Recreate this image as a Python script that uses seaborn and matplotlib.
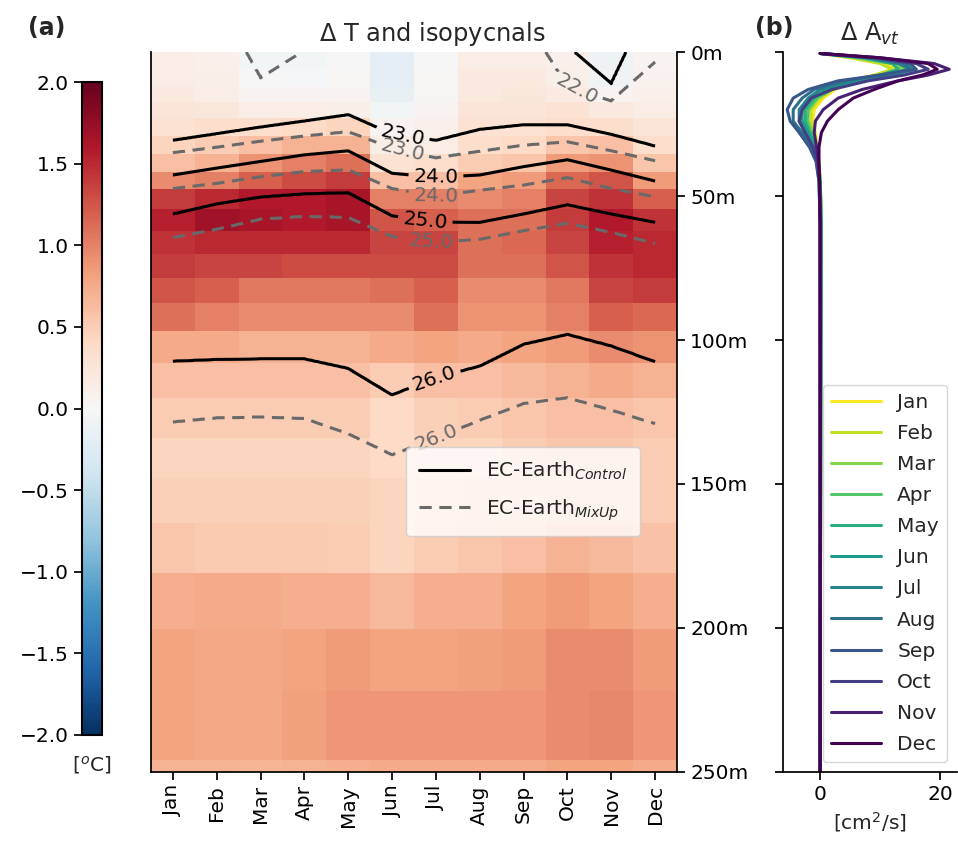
"""Delta T with isopycnals (a) and monthly Delta A_vt profiles (b)."""
import matplotlib

matplotlib.use("Agg")
import matplotlib.pyplot as plt
import numpy as np
import pandas as pd
import seaborn as sns
from matplotlib.lines import Line2D

OUTPUT = "out.png"

MONTHS = ["Jan", "Feb", "Mar", "Apr", "May", "Jun", "Jul", "Aug", "Sep", "Oct", "Nov", "Dec"]

# model layer edges (m) for the temperature difference cells
DEPTH_EDGES = [0, 6, 12, 17.5, 23, 29, 35.5, 41.5, 47.5, 54.5, 62, 70, 78.5, 87,
               97, 108, 120, 134, 148, 163.5, 181, 200.5, 222, 246, 270]

# Delta T [degC], one row per layer, one column per month
DELTA_T = [
    [0.15, 0.10, -0.05, -0.05, 0.00, -0.20, 0.00, 0.15, 0.15, 0.10, -0.10, 0.05],
    [0.15, 0.12, 0.00, -0.02, 0.02, -0.20, 0.02, 0.20, 0.20, 0.12, -0.08, 0.08],
    [0.20, 0.15, 0.05, 0.05, 0.05, -0.15, 0.03, 0.20, 0.22, 0.18, 0.05, 0.10],
    [0.25, 0.22, 0.15, 0.15, 0.12, -0.05, 0.05, 0.25, 0.25, 0.30, 0.20, 0.15],
    [0.30, 0.35, 0.35, 0.40, 0.45, 0.05, 0.10, 0.30, 0.30, 0.35, 0.35, 0.25],
    [0.45, 0.50, 0.60, 0.70, 0.70, 0.15, 0.15, 0.35, 0.40, 0.55, 0.60, 0.35],
    [0.60, 0.70, 0.90, 1.00, 1.10, 0.30, 0.35, 0.50, 0.55, 0.85, 0.90, 0.55],
    [0.95, 1.00, 1.20, 1.30, 1.40, 0.60, 0.60, 0.80, 0.85, 1.15, 1.25, 0.85],
    [1.40, 1.50, 1.60, 1.60, 1.65, 1.00, 1.00, 0.95, 1.00, 1.35, 1.45, 1.20],
    [1.55, 1.70, 1.65, 1.60, 1.65, 1.25, 1.20, 1.10, 1.10, 1.40, 1.60, 1.45],
    [1.45, 1.50, 1.50, 1.50, 1.50, 1.35, 1.35, 1.10, 1.15, 1.35, 1.55, 1.50],
    [1.40, 1.35, 1.35, 1.30, 1.30, 1.30, 1.30, 1.10, 1.10, 1.25, 1.45, 1.50],
    [1.25, 1.20, 1.05, 1.05, 1.05, 1.10, 1.20, 0.95, 0.95, 1.05, 1.35, 1.40],
    [1.10, 1.00, 0.95, 0.95, 0.95, 0.95, 1.10, 0.90, 0.90, 1.00, 1.20, 1.15],
    [0.75, 0.75, 0.70, 0.70, 0.70, 0.75, 0.80, 0.75, 0.80, 0.85, 0.95, 0.90],
    [0.60, 0.60, 0.60, 0.60, 0.60, 0.50, 0.60, 0.60, 0.65, 0.70, 0.75, 0.70],
    [0.50, 0.50, 0.50, 0.50, 0.50, 0.40, 0.48, 0.50, 0.55, 0.60, 0.60, 0.55],
    [0.45, 0.45, 0.45, 0.45, 0.45, 0.40, 0.45, 0.45, 0.50, 0.55, 0.55, 0.50],
    [0.48, 0.48, 0.48, 0.48, 0.48, 0.45, 0.48, 0.50, 0.52, 0.55, 0.55, 0.50],
    [0.55, 0.52, 0.52, 0.52, 0.50, 0.45, 0.50, 0.55, 0.60, 0.70, 0.65, 0.58],
    [0.72, 0.75, 0.75, 0.72, 0.72, 0.65, 0.72, 0.72, 0.80, 0.85, 0.80, 0.72],
    [0.80, 0.78, 0.78, 0.80, 0.85, 0.80, 0.80, 0.82, 0.85, 0.95, 0.95, 0.85],
    [0.80, 0.78, 0.78, 0.82, 0.88, 0.88, 0.88, 0.88, 0.88, 0.95, 0.97, 0.88],
    [0.70, 0.70, 0.68, 0.70, 0.72, 0.75, 0.75, 0.75, 0.75, 0.80, 0.80, 0.75],
]

# isopycnal depth (m) per month; negative = surface outcrop (level lies above the sea surface)
SIGMA_LEVELS = [22.0, 23.0, 24.0, 25.0, 26.0]

CONTROL_D22 = [-25, -25, -20, -20, -20, -25, -30, -25, -20, -2.1, 11.0, -21.4]
CONTROL_D23 = [30.7, 28.4, 26.1, 24.0, 21.8, 28.5, 30.7, 26.9, 25.3, 25.3, 28.6, 32.7]
CONTROL_D24 = [42.7, 40.3, 38.0, 35.7, 34.3, 42.1, 43.5, 42.7, 39.8, 37.4, 41.0, 44.8]
CONTROL_D25 = [56.2, 52.7, 50.3, 49.2, 48.8, 56.8, 59.0, 59.1, 56.2, 53.0, 56.2, 59.1]
CONTROL_D26 = [107.3, 106.7, 106.5, 106.5, 109.8, 119.0, 113.0, 109.0, 101.4, 98.0, 102.0, 107.5]

MIXUP_D22 = [-25, -18.3, 9.0, -0.5, -20, -25, -25, -25, -12, 12.0, 17.0, 3.5]
MIXUP_D23 = [35.0, 33.1, 31.0, 29.2, 27.7, 33.5, 36.8, 34.5, 32.4, 31.2, 34.3, 37.8]
MIXUP_D24 = [47.4, 45.6, 43.3, 41.5, 40.9, 47.4, 50.0, 48.0, 46.2, 43.6, 47.4, 50.3]
MIXUP_D25 = [64.4, 61.5, 58.0, 57.0, 57.4, 64.0, 66.0, 65.0, 62.0, 59.4, 62.6, 66.4]
MIXUP_D26 = [128.4, 127.0, 126.7, 127.2, 132.5, 139.8, 134.0, 127.8, 122.0, 120.0, 124.3, 129.0]

CONTROL_LABEL_XY = [(5.75, 28.0), (6.5, 43.5), (6.26, 58.0), (6.5, 115.0)]
MIXUP_LABEL_XY = [(9.7, 13.5), (5.75, 33.3), (6.5, 49.7), (6.4, 65.6), (6.5, 134.0)]

# Delta A_vt profiles [cm2/s]
AVT_DEPTHS = [0.5, 2, 4, 6, 8, 10, 13, 16, 20, 24, 28, 33, 38, 45, 60, 100, 250]
AVT_PROFILES = [
    [0, 6, 11, 13, 10, 6, 2.5, 0.5, -1, -1.2, -0.8, -0.5, -0.2, 0, 0.2, 0.1, 0],
    [0, 5, 10, 12, 9, 5, 2, 0, -1.5, -1.5, -1, -0.5, -0.2, 0, 0.2, 0.1, 0],
    [0, 6, 12, 14, 10, 5, 1.5, -0.5, -2, -2, -1.3, -0.6, -0.2, 0, 0.2, 0.1, 0],
    [0, 7, 13, 15, 11, 6, 2, -0.5, -2, -2.2, -1.5, -0.7, -0.3, 0, 0.2, 0.1, 0],
    [0, 7, 12, 13, 10, 5, 1, -1, -2.5, -2.5, -1.8, -0.8, -0.3, 0, 0.2, 0.1, 0],
    [0, 8, 14, 16, 12, 6, 1, -1.5, -3, -3, -2, -1, -0.4, -0.1, 0.1, 0.1, 0],
    [0, 8, 13, 15, 11, 5, 0, -2, -3.5, -3.5, -2.5, -1.2, -0.5, -0.1, 0.1, 0.1, 0],
    [0, 8, 14, 15, 10, 4, -1, -3, -4.5, -4.5, -3, -1.5, -0.6, -0.2, 0, 0, 0],
    [0, 9, 15, 16, 10, 3, -2, -4.5, -5.5, -5, -3.5, -1.8, -0.7, -0.2, 0, 0, 0],
    [0, 9, 16, 18, 14, 8, 2, -1.5, -3, -3.5, -2.5, -1.2, -0.5, -0.1, 0, 0, 0],
    [0, 10, 19, 21.5, 18, 13, 7, 3, 0.5, -0.8, -1, -0.6, -0.3, -0.1, 0, 0, 0],
    [0, 10, 18, 19.5, 17, 13, 9, 5.5, 3, 1.2, 0.2, -0.2, -0.2, -0.1, 0, 0, 0],
]

DEPTH_TICKS = [0, 50, 100, 150, 200, 250]
Z_FINE = np.linspace(0, 250, 1001)
X_FINE = np.linspace(0.5, 11.5, 221)
FS = 14.5


def sigma_field(level_depths):
    """Density field whose contours run straight between the monthly isopycnal depths."""
    xc = np.arange(len(MONTHS)) + 0.5
    depth_at_x = [np.interp(X_FINE, xc, depths) for depths in level_depths]
    field = np.empty((len(Z_FINE), len(X_FINE)))
    for j in range(len(X_FINE)):
        knots_z = [-100.0] + [d[j] for d in depth_at_x] + [400.0]
        knots_s = [20.0] + SIGMA_LEVELS + [27.0]
        field[:, j] = np.interp(Z_FINE, knots_z, knots_s)
    return field


def main():
    sns.set_theme(style="ticks", rc={"axes.edgecolor": "black", "xtick.color": "black",
                                     "ytick.color": "black", "lines.dashed_pattern": [4.0, 2.5]})
    plt.rcParams["font.family"] = ["DejaVu Sans"]

    fig = plt.figure(figsize=(9.58, 8.5), dpi=100)
    cax = fig.add_axes([0.0856, 0.1353, 0.0209, 0.768])
    ax = fig.add_axes([0.1576, 0.0918, 0.5491, 0.847])
    axb = fig.add_axes([0.8173, 0.0918, 0.1817, 0.847])

    # panel a: temperature difference
    x_edges = np.arange(len(MONTHS) + 1)
    mesh = ax.pcolormesh(x_edges, DEPTH_EDGES, np.array(DELTA_T), cmap="RdBu_r",
                         vmin=-2, vmax=2, shading="flat")
    ax.set_xlim(0, len(MONTHS))
    ax.set_ylim(250, 0)

    ctrl = sigma_field([CONTROL_D22, CONTROL_D23, CONTROL_D24, CONTROL_D25, CONTROL_D26])
    mix = sigma_field([MIXUP_D22, MIXUP_D23, MIXUP_D24, MIXUP_D25, MIXUP_D26])
    cs_ctrl = ax.contour(X_FINE, Z_FINE, ctrl, levels=SIGMA_LEVELS, colors="black", linewidths=2.2)
    cs_mix = ax.contour(X_FINE, Z_FINE, mix, levels=SIGMA_LEVELS, colors="dimgray",
                        linewidths=2.2, linestyles="dashed")
    ax.clabel(cs_ctrl, manual=CONTROL_LABEL_XY, inline=True, fmt="%.1f", fontsize=FS)
    ax.clabel(cs_mix, manual=MIXUP_LABEL_XY, inline=True, fmt="%.1f", fontsize=FS)

    xc = np.arange(len(MONTHS)) + 0.5
    ax.set_xticks(xc)
    ax.set_xticklabels(MONTHS, rotation=90, fontsize=FS)
    ax.set_yticks(DEPTH_TICKS)
    ax.set_yticklabels([f"{d}m" for d in DEPTH_TICKS], fontsize=FS)
    ax.tick_params(axis="y", left=False, labelleft=False, right=True, labelright=True)
    ax.spines["top"].set_visible(False)
    ax.set_title(r"$\Delta$ T and isopycnals", fontsize=17.4, pad=8, x=0.535)

    handles = [Line2D([], [], color="black", lw=2.2),
               Line2D([], [], color="dimgray", lw=2.2, ls="--")]
    ax.legend(handles, [r"EC-Earth$_{Control}$", r"EC-Earth$_{MixUp}$"], loc="upper left",
              bbox_to_anchor=(0.466, 0.466), fontsize=FS, handlelength=2.5,
              labelspacing=0.75, borderpad=0.65)

    cbar = fig.colorbar(mesh, cax=cax, ticks=np.arange(-2, 2.01, 0.5))
    cax.yaxis.set_ticks_position("left")
    cax.yaxis.set_label_position("left")
    cax.set_yticklabels([f"{t:.1f}".replace("-", "\u2212") for t in np.arange(-2, 2.01, 0.5)],
                        fontsize=FS)
    cax.set_xlabel(r"[$^o$C]", fontsize=FS, labelpad=14)
    cbar.outline.set_linewidth(1.5)

    # panel b: vertical diffusivity change
    records = []
    for month, profile in zip(MONTHS, AVT_PROFILES):
        for depth, value in zip(AVT_DEPTHS, profile):
            records.append({"month": month, "depth": depth, "value": value})
    df = pd.DataFrame(records)
    colors = [plt.get_cmap("viridis_r")(v) for v in np.linspace(0, 1, len(MONTHS))]
    sns.lineplot(data=df, x="value", y="depth", hue="month", hue_order=MONTHS,
                 palette=colors, sort=False, estimator=None, lw=2.2, ax=axb)
    axb.set_ylim(250, 0)
    axb.set_xlim(-6.2, 22.8)
    axb.set_yticks(DEPTH_TICKS)
    axb.set_yticklabels([])
    axb.set_xticks([0, 20])
    axb.tick_params(axis="x", labelsize=FS)
    axb.set_ylabel("")
    axb.set_xlabel(r"[cm$^2$/s]", fontsize=FS)
    axb.set_title(r"$\Delta$ A$_{vt}$", fontsize=17.4, pad=8)
    sns.despine(ax=axb)
    h, lab = axb.get_legend_handles_labels()
    axb.legend(h, lab, loc="lower right", fontsize=FS, handlelength=2.5, title=None,
               labelspacing=0.6)

    fig.text(0.029, 0.967, "(a)", fontsize=17, weight="bold", va="center")
    fig.text(0.788, 0.967, "(b)", fontsize=17, weight="bold", va="center")

    fig.savefig(OUTPUT, dpi=100, facecolor="white")
    plt.close(fig)


if __name__ == "__main__":
    main()
